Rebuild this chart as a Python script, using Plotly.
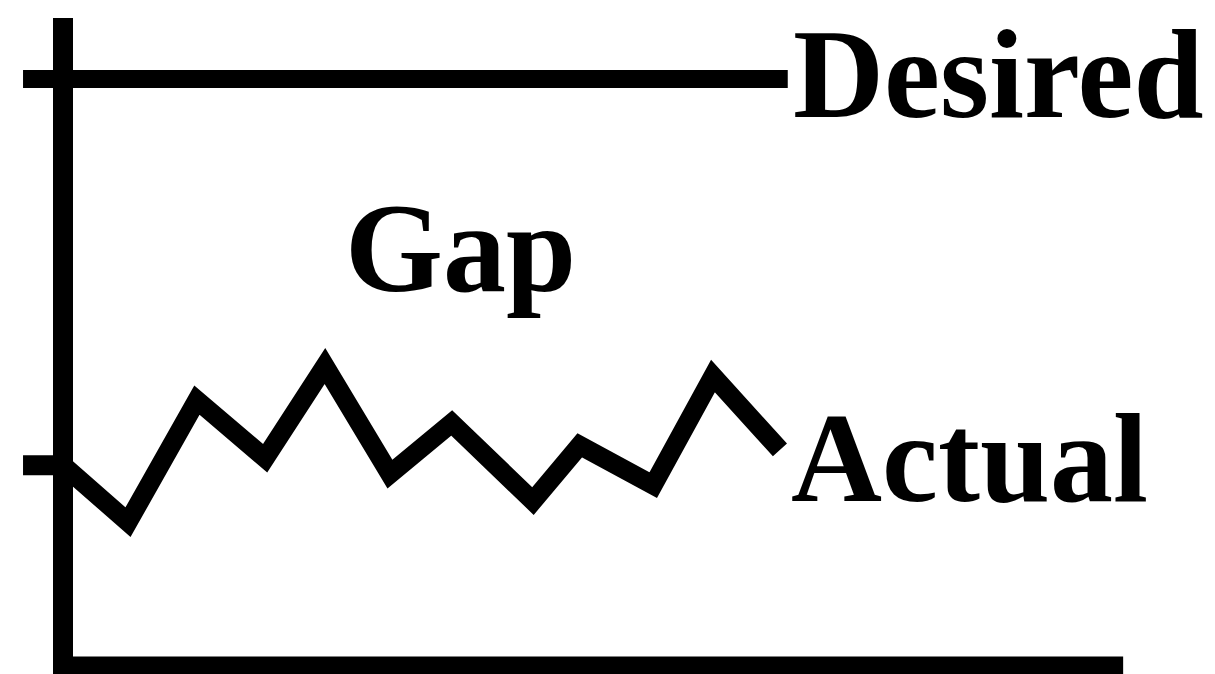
import plotly.graph_objects as go

# Data (time units along x, performance level along y)
actual_t = [0.0, 1.0, 2.06, 3.11, 4.03, 5.03, 5.98, 7.23, 7.95, 9.08, 10.0, 11.03]
actual_v = [34.2, 24.5, 45.3, 35.4, 51.1, 32.7, 41.4, 28.1, 37.6, 30.8, 49.4, 36.8]
desired_t = [-0.615, 11.15]
desired_v = [100, 100]
tick_level = 34.2
labels = ["Desired", "Gap", "Actual"]
label_t = [11.2, 4.3, 11.17]
label_v = [100.7, 71.1, 35.4]

PX_X = 65.0   # pixels per time unit
PX_Y = 5.87   # pixels per level unit
X0 = 63.0     # figure pixel of time origin
Y0 = 666.0    # figure pixel of level origin

W, H = 1215, 674
xr = [-X0 / PX_X, (W - X0) / PX_X]
yr = [-(H - Y0) / PX_Y, Y0 / PX_Y]

fig = go.Figure()
black = "#000000"

# axes
fig.add_trace(go.Scatter(x=[0, 0], y=[yr[0] - 2, 110.4], mode="lines",
                         line=dict(color=black, width=20), hoverinfo="skip"))
fig.add_trace(go.Scatter(x=[-10 / PX_X, 16.31], y=[0, 0], mode="lines",
                         line=dict(color=black, width=19), hoverinfo="skip"))
# tick for actual starting level
fig.add_trace(go.Scatter(x=[-0.615, 0], y=[tick_level, tick_level], mode="lines",
                         line=dict(color=black, width=20), hoverinfo="skip"))
# desired
fig.add_trace(go.Scatter(x=desired_t, y=desired_v, mode="lines",
                         line=dict(color=black, width=18), hoverinfo="skip"))
# actual
fig.add_trace(go.Scatter(x=actual_t, y=actual_v, mode="lines",
                         line=dict(color=black, width=19), hoverinfo="skip"))

for txt, t, v in zip(labels, label_t, label_v):
    fig.add_annotation(x=t, y=v, text=txt, showarrow=False, xanchor="left", yanchor="middle",
                       font=dict(family="Liberation Serif", size=126, color=black, weight="bold"))

fig.update_layout(
    width=W, height=H, margin=dict(l=0, r=0, t=0, b=0),
    paper_bgcolor="white", plot_bgcolor="white", showlegend=False,
    xaxis=dict(range=xr, visible=False, fixedrange=True),
    yaxis=dict(range=yr, visible=False, fixedrange=True),
)
fig.write_html("out.html", config={"displayModeBar": False},
               post_script="document.body.style.margin='0';document.body.style.overflow='hidden';")
